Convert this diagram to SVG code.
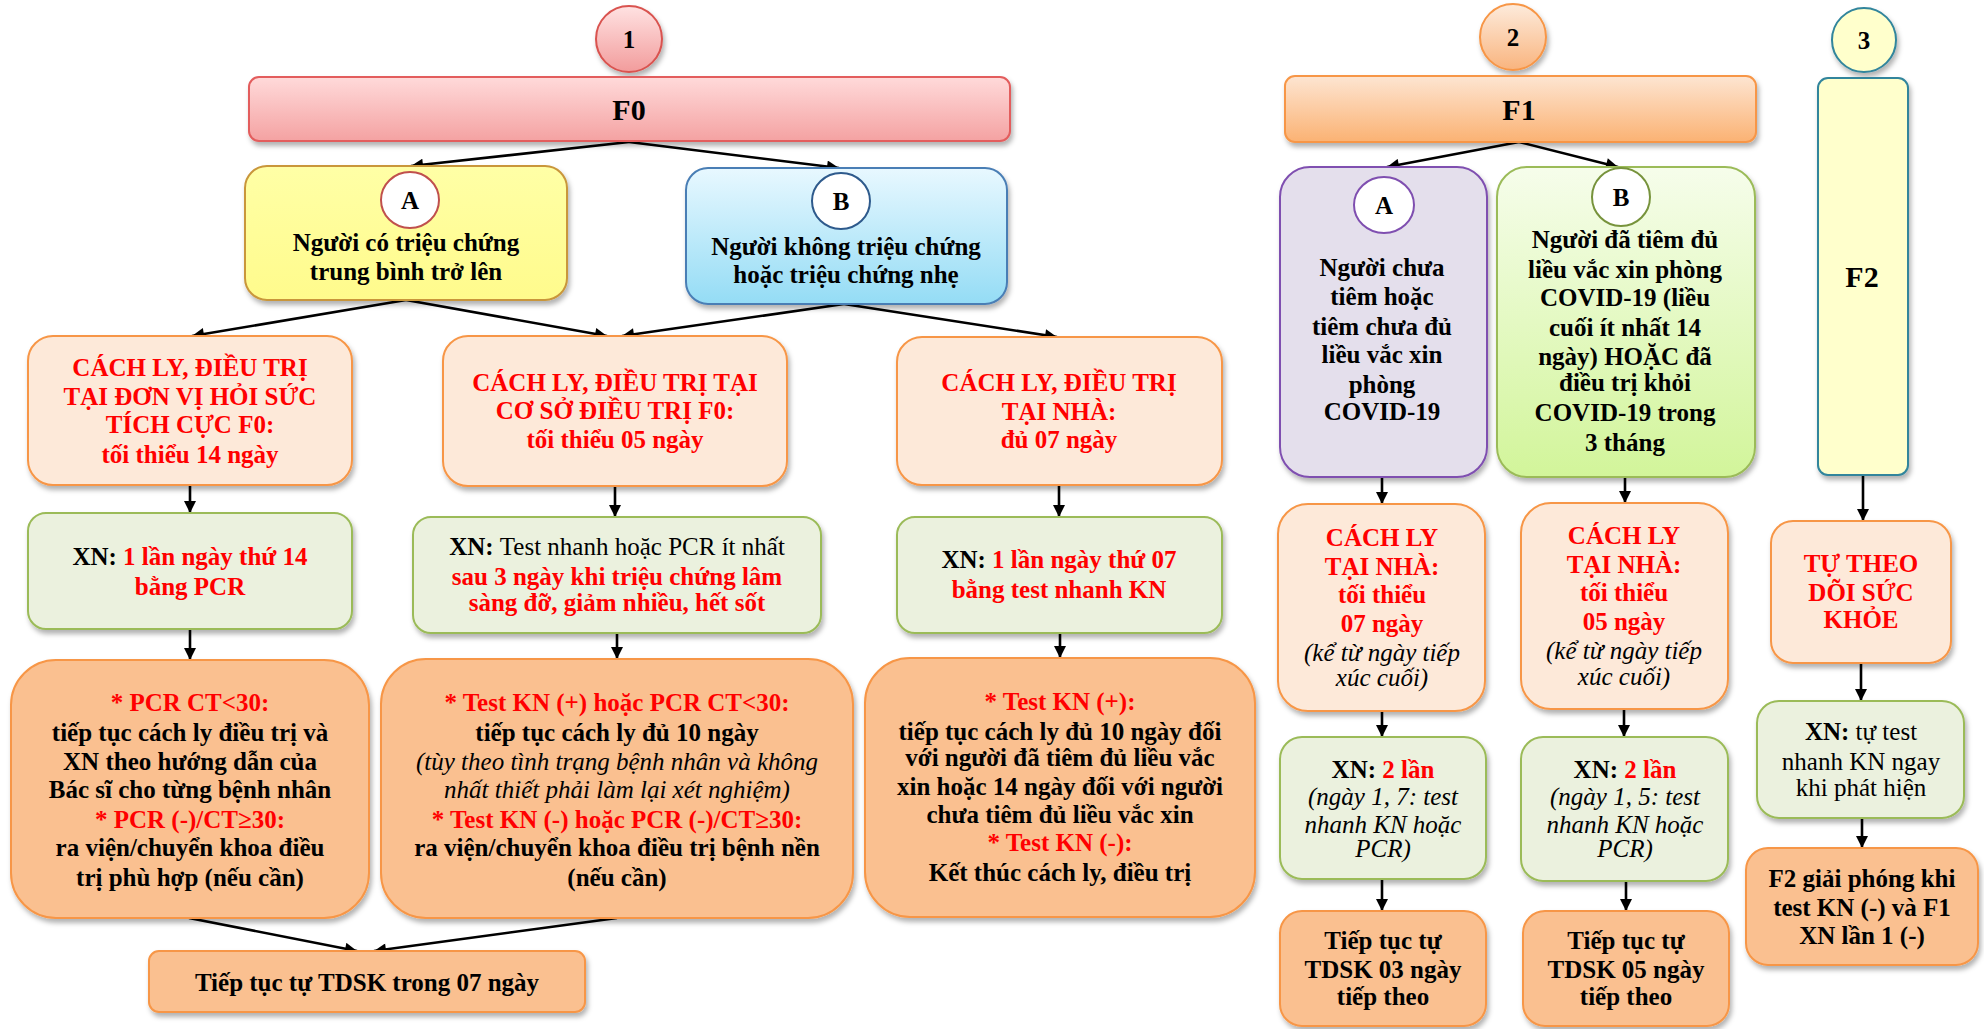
<svg xmlns="http://www.w3.org/2000/svg" width="1984" height="1029" viewBox="0 0 1984 1029">
<defs>
<linearGradient id="gF0" x1="0" y1="0" x2="0" y2="1"><stop offset="0" stop-color="#ffdada"/><stop offset="1" stop-color="#f4a2a2"/></linearGradient>
<linearGradient id="gC1" x1="0" y1="0" x2="0" y2="1"><stop offset="0" stop-color="#ffe2e2"/><stop offset="1" stop-color="#f29c9c"/></linearGradient>
<linearGradient id="gF1" x1="0" y1="0" x2="0" y2="1"><stop offset="0" stop-color="#fde5d2"/><stop offset="1" stop-color="#fbb273"/></linearGradient>
<linearGradient id="gC2" x1="0" y1="0" x2="0" y2="1"><stop offset="0" stop-color="#fdebdc"/><stop offset="1" stop-color="#f9b47e"/></linearGradient>
<linearGradient id="gA" x1="0" y1="0" x2="0" y2="1"><stop offset="0" stop-color="#ffffa6"/><stop offset="1" stop-color="#fffb8c"/></linearGradient>
<linearGradient id="gB" x1="0" y1="0" x2="0" y2="1"><stop offset="0" stop-color="#e8f8ff"/><stop offset="1" stop-color="#94dcf5"/></linearGradient>
<linearGradient id="gG" x1="0" y1="0" x2="0" y2="1"><stop offset="0" stop-color="#f6fdeb"/><stop offset="1" stop-color="#d2f59a"/></linearGradient>
<filter id="sh" x="-10%" y="-10%" width="125%" height="130%"><feDropShadow dx="2" dy="4" stdDeviation="2.5" flood-color="#000" flood-opacity="0.3"/></filter>
<marker id="ah" viewBox="0 0 10 10" refX="10" refY="5" markerWidth="14" markerHeight="12" markerUnits="userSpaceOnUse" orient="auto"><path d="M0,0 L10,5 L0,10 z" fill="#000"/></marker>
</defs>
<style>
.t{font-family:"Liberation Serif","Times New Roman",serif;font-size:25px;font-weight:bold;text-anchor:middle;fill:#000}
.r{fill:#ff0000}
.i{font-style:italic;font-weight:normal}
.n{font-weight:normal}
.big{font-size:30px}
.box{stroke-width:2;filter:url(#sh)}
.lo{fill:#fde9d9;stroke:#f79646}
.gr{fill:#ebf1de;stroke:#9bbb59}
.or{fill:#fac090;stroke:#f79646}
.circ{fill:#ffffff;stroke-width:2}
#connectors line{stroke:#000;stroke-width:2.6;marker-end:url(#ah)}
</style>
<rect width="1984" height="1029" fill="#ffffff"/>

<g id="connectors">
<line x1="629" y1="142" x2="411" y2="166"/>
<line x1="629" y1="142" x2="839" y2="168"/>
<line x1="406" y1="300" x2="192" y2="336"/>
<line x1="406" y1="300" x2="607" y2="336"/>
<line x1="844" y1="304" x2="622" y2="336"/>
<line x1="844" y1="304" x2="1057" y2="337"/>
<line x1="190" y1="485" x2="190" y2="513"/>
<line x1="615" y1="486" x2="615" y2="517"/>
<line x1="1059" y1="485" x2="1059" y2="517"/>
<line x1="190" y1="629" x2="190" y2="660"/>
<line x1="617" y1="633" x2="617" y2="659"/>
<line x1="1060" y1="633" x2="1060" y2="658"/>
<line x1="189" y1="918" x2="357" y2="951"/>
<line x1="617" y1="918" x2="374" y2="951"/>
<line x1="1519" y1="142" x2="1387" y2="167"/>
<line x1="1519" y1="142" x2="1618" y2="167"/>
<line x1="1382" y1="477" x2="1382" y2="504"/>
<line x1="1625" y1="477" x2="1625" y2="503"/>
<line x1="1863" y1="475" x2="1863" y2="521"/>
<line x1="1382" y1="711" x2="1382" y2="737"/>
<line x1="1624" y1="709" x2="1624" y2="737"/>
<line x1="1861" y1="663" x2="1861" y2="701"/>
<line x1="1382" y1="879" x2="1382" y2="911"/>
<line x1="1626" y1="881" x2="1626" y2="911"/>
<line x1="1862" y1="818" x2="1862" y2="848"/>
</g>

<g id="circle1">
<ellipse cx="629" cy="39" rx="33" ry="33" fill="url(#gC1)" stroke="#d9534f" stroke-width="2" filter="url(#sh)"/>
<text class="t" x="629" y="48">1</text>
</g>
<g id="F0">
<rect class="box" x="249" y="77" width="761" height="64" rx="10" fill="url(#gF0)" stroke="#e35d5d"/>
<text class="t big" x="629" y="120">F0</text>
</g>
<g id="F0-A">
<rect class="box" x="245" y="166" width="322" height="134" rx="22" fill="url(#gA)" stroke="#c9963a"/>
<ellipse class="circ" cx="410" cy="200" rx="29" ry="28" stroke="#c0504d"/>
<text class="t" x="410" y="209">A</text>
<text class="t" x="406" y="251">Người có triệu chứng</text>
<text class="t" x="406" y="280">trung bình trở lên</text>
</g>
<g id="F0-B">
<rect class="box" x="686" y="168" width="321" height="136" rx="22" fill="url(#gB)" stroke="#4a7eb5"/>
<ellipse class="circ" cx="841" cy="201" rx="29" ry="28" stroke="#2e5a8c"/>
<text class="t" x="841" y="210">B</text>
<text class="t" x="846" y="255">Người không triệu chứng</text>
<text class="t" x="846" y="283">hoặc triệu chứng nhẹ</text>
</g>
<g id="F0-icu">
<rect class="box lo" x="28" y="336" width="324" height="149" rx="25"/>
<text class="t r" x="190" y="376">CÁCH LY, ĐIỀU TRỊ</text>
<text class="t r" x="190" y="405">TẠI ĐƠN VỊ HỎI SỨC</text>
<text class="t r" x="190" y="433">TÍCH CỰC F0:</text>
<text class="t r" x="190" y="463">tối thiểu 14 ngày</text>
</g>
<g id="F0-facility">
<rect class="box lo" x="443" y="336" width="344" height="150" rx="25"/>
<text class="t r" x="615" y="391">CÁCH LY, ĐIỀU TRỊ TẠI</text>
<text class="t r" x="615" y="419">CƠ SỞ ĐIỀU TRỊ F0:</text>
<text class="t r" x="615" y="448">tối thiểu 05 ngày</text>
</g>
<g id="F0-home">
<rect class="box lo" x="897" y="337" width="325" height="148" rx="25"/>
<text class="t r" x="1059" y="391">CÁCH LY, ĐIỀU TRỊ</text>
<text class="t r" x="1059" y="420">TẠI NHÀ:</text>
<text class="t r" x="1059" y="448">đủ 07 ngày</text>
</g>
<g id="XN-icu">
<rect class="box gr" x="28" y="513" width="324" height="116" rx="18"/>
<text class="t" x="190" y="565">XN: <tspan class="r">1 lần ngày thứ 14</tspan></text>
<text class="t r" x="190" y="595">bằng PCR</text>
</g>
<g id="XN-facility">
<rect class="box gr" x="413" y="517" width="408" height="116" rx="18"/>
<text class="t" x="617" y="555">XN: <tspan class="n">Test nhanh hoặc PCR ít nhất</tspan></text>
<text class="t r" x="617" y="585">sau 3 ngày khi triệu chứng lâm</text>
<text class="t r" x="617" y="611">sàng đỡ, giảm nhiều, hết sốt</text>
</g>
<g id="XN-home">
<rect class="box gr" x="897" y="517" width="325" height="116" rx="18"/>
<text class="t" x="1059" y="568">XN: <tspan class="r">1 lần ngày thứ 07</tspan></text>
<text class="t r" x="1059" y="598">bằng test nhanh KN</text>
</g>
<g id="result-icu">
<rect class="box or" x="11" y="660" width="358" height="258" rx="45"/>
<text class="t r" x="190" y="711">* PCR CT&lt;30:</text>
<text class="t" x="190" y="741">tiếp tục cách ly điều trị và</text>
<text class="t" x="190" y="770">XN theo hướng dẫn của</text>
<text class="t" x="190" y="798">Bác sĩ cho từng bệnh nhân</text>
<text class="t r" x="190" y="828">* PCR (-)/CT≥30:</text>
<text class="t" x="190" y="856">ra viện/chuyển khoa điều</text>
<text class="t" x="190" y="886">trị phù hợp (nếu cần)</text>
</g>
<g id="result-facility">
<rect class="box or" x="381" y="659" width="472" height="259" rx="45"/>
<text class="t r" x="617" y="711">* Test KN (+) hoặc PCR CT&lt;30:</text>
<text class="t" x="617" y="741">tiếp tục cách ly đủ 10 ngày</text>
<text class="t i" x="617" y="770">(tùy theo tình trạng bệnh nhân và không</text>
<text class="t i" x="617" y="798">nhất thiết phải làm lại xét nghiệm)</text>
<text class="t r" x="617" y="828">* Test KN (-) hoặc PCR (-)/CT≥30:</text>
<text class="t" x="617" y="856">ra viện/chuyển khoa điều trị bệnh nền</text>
<text class="t" x="617" y="886">(nếu cần)</text>
</g>
<g id="result-home">
<rect class="box or" x="865" y="658" width="390" height="259" rx="45"/>
<text class="t r" x="1060" y="710">* Test KN (+):</text>
<text class="t" x="1060" y="740">tiếp tục cách ly đủ 10 ngày đối</text>
<text class="t" x="1060" y="766">với người đã tiêm đủ liều vắc</text>
<text class="t" x="1060" y="795">xin hoặc 14 ngày đối với người</text>
<text class="t" x="1060" y="823">chưa tiêm đủ liều vắc xin</text>
<text class="t r" x="1060" y="851">* Test KN (-):</text>
<text class="t" x="1060" y="881">Kết thúc cách ly, điều trị</text>
</g>
<g id="TDSK-F0">
<rect class="box or" x="149" y="951" width="436" height="61" rx="10"/>
<text class="t" x="367" y="991">Tiếp tục tự TDSK trong 07 ngày</text>
</g>

<g id="circle2">
<ellipse cx="1513" cy="37" rx="33" ry="33" fill="url(#gC2)" stroke="#f79646" stroke-width="2" filter="url(#sh)"/>
<text class="t" x="1513" y="46">2</text>
</g>
<g id="F1">
<rect class="box" x="1285" y="76" width="471" height="66" rx="10" fill="url(#gF1)" stroke="#f79646"/>
<text class="t big" x="1519" y="120">F1</text>
</g>
<g id="F1-A">
<rect class="box" x="1280" y="167" width="207" height="310" rx="30" fill="#e4dfec" stroke="#7f4fb0"/>
<ellipse class="circ" cx="1384" cy="205" rx="30" ry="28" stroke="#7f4fb0"/>
<text class="t" x="1384" y="214">A</text>
<text class="t" x="1382" y="276">Người chưa</text>
<text class="t" x="1382" y="305">tiêm hoặc</text>
<text class="t" x="1382" y="335">tiêm chưa đủ</text>
<text class="t" x="1382" y="363">liều vắc xin</text>
<text class="t" x="1382" y="393">phòng</text>
<text class="t" x="1382" y="420">COVID-19</text>
</g>
<g id="F1-B">
<rect class="box" x="1497" y="167" width="258" height="310" rx="30" fill="url(#gG)" stroke="#9bbb59"/>
<ellipse class="circ" cx="1621" cy="197" rx="29" ry="29" stroke="#77933c"/>
<text class="t" x="1621" y="206">B</text>
<text class="t" x="1625" y="248">Người đã tiêm đủ</text>
<text class="t" x="1625" y="278">liều vắc xin phòng</text>
<text class="t" x="1625" y="306">COVID-19 (liều</text>
<text class="t" x="1625" y="336">cuối ít nhất 14</text>
<text class="t" x="1625" y="365">ngày) HOẶC đã</text>
<text class="t" x="1625" y="391">điều trị khỏi</text>
<text class="t" x="1625" y="421">COVID-19 trong</text>
<text class="t" x="1625" y="451">3 tháng</text>
</g>
<g id="circle3">
<ellipse cx="1864" cy="40" rx="32" ry="32" fill="#ffffcc" stroke="#31859c" stroke-width="2" filter="url(#sh)"/>
<text class="t" x="1864" y="49">3</text>
</g>
<g id="F2">
<rect class="box" x="1818" y="78" width="90" height="397" rx="10" fill="#ffffcc" stroke="#31859c"/>
<text class="t big" x="1862" y="287">F2</text>
</g>
<g id="F1-A-home">
<rect class="box lo" x="1278" y="504" width="207" height="207" rx="30"/>
<text class="t r" x="1382" y="546">CÁCH LY</text>
<text class="t r" x="1382" y="575">TẠI NHÀ:</text>
<text class="t r" x="1382" y="603">tối thiểu</text>
<text class="t r" x="1382" y="632">07 ngày</text>
<text class="t i" x="1382" y="661">(kể từ ngày tiếp</text>
<text class="t i" x="1382" y="686">xúc cuối)</text>
</g>
<g id="F1-B-home">
<rect class="box lo" x="1521" y="503" width="207" height="206" rx="30"/>
<text class="t r" x="1624" y="544">CÁCH LY</text>
<text class="t r" x="1624" y="573">TẠI NHÀ:</text>
<text class="t r" x="1624" y="601">tối thiểu</text>
<text class="t r" x="1624" y="630">05 ngày</text>
<text class="t i" x="1624" y="659">(kể từ ngày tiếp</text>
<text class="t i" x="1624" y="685">xúc cuối)</text>
</g>
<g id="F2-self">
<rect class="box lo" x="1771" y="521" width="180" height="142" rx="22"/>
<text class="t r" x="1861" y="572">TỰ THEO</text>
<text class="t r" x="1861" y="601">DÕI SỨC</text>
<text class="t r" x="1861" y="628">KHỎE</text>
</g>
<g id="XN-F1-A">
<rect class="box gr" x="1280" y="737" width="206" height="142" rx="22"/>
<text class="t" x="1383" y="778">XN: <tspan class="r">2 lần</tspan></text>
<text class="t i" x="1383" y="805">(ngày 1, 7: test</text>
<text class="t i" x="1383" y="833">nhanh KN hoặc</text>
<text class="t i" x="1383" y="857">PCR)</text>
</g>
<g id="XN-F1-B">
<rect class="box gr" x="1521" y="737" width="207" height="144" rx="22"/>
<text class="t" x="1625" y="778">XN: <tspan class="r">2 lần</tspan></text>
<text class="t i" x="1625" y="805">(ngày 1, 5: test</text>
<text class="t i" x="1625" y="833">nhanh KN hoặc</text>
<text class="t i" x="1625" y="857">PCR)</text>
</g>
<g id="XN-F2">
<rect class="box gr" x="1757" y="701" width="207" height="117" rx="22"/>
<text class="t" x="1861" y="740">XN: <tspan class="n">tự test</tspan></text>
<text class="t n" x="1861" y="770">nhanh KN ngay</text>
<text class="t n" x="1861" y="796">khi phát hiện</text>
</g>
<g id="F1-A-follow">
<rect class="box or" x="1280" y="911" width="206" height="115" rx="22"/>
<text class="t" x="1383" y="949">Tiếp tục tự</text>
<text class="t" x="1383" y="978">TDSK 03 ngày</text>
<text class="t" x="1383" y="1005">tiếp theo</text>
</g>
<g id="F1-B-follow">
<rect class="box or" x="1523" y="911" width="206" height="115" rx="22"/>
<text class="t" x="1626" y="949">Tiếp tục tự</text>
<text class="t" x="1626" y="978">TDSK 05 ngày</text>
<text class="t" x="1626" y="1005">tiếp theo</text>
</g>
<g id="F2-release">
<rect class="box or" x="1746" y="848" width="232" height="117" rx="22"/>
<text class="t" x="1862" y="887">F2 giải phóng khi</text>
<text class="t" x="1862" y="916">test KN (-) và F1</text>
<text class="t" x="1862" y="944">XN lần 1 (-)</text>
</g>
</svg>
